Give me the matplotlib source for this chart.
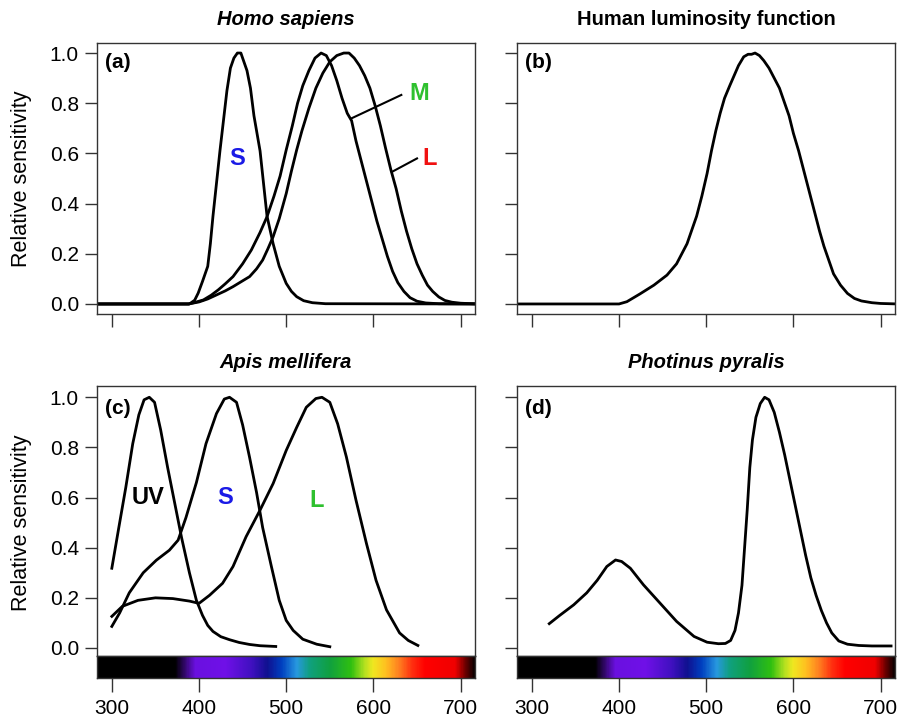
import numpy as np
import matplotlib
matplotlib.use("Agg")
import matplotlib.pyplot as plt
from matplotlib.colors import LinearSegmentedColormap

plt.rcParams['font.family'] = ['Liberation Sans', 'DejaVu Sans']

# (a) Homo sapiens cone sensitivities
hs_s_x = [280, 389, 395, 399, 404, 410, 413, 416, 420, 424, 428, 432, 436, 440, 444, 448,
          451, 455, 459, 463, 470, 474, 478, 485, 492, 500, 506, 512, 520, 530, 545, 720]
hs_s_y = [0, 0, 0.015, 0.043, 0.09, 0.15, 0.24, 0.35, 0.48, 0.61, 0.73, 0.85, 0.94, 0.98, 1.0, 1.0,
          0.97, 0.93, 0.86, 0.75, 0.61, 0.48, 0.35, 0.24, 0.15, 0.082, 0.05, 0.029, 0.013, 0.005,
          0.001, 0]
hs_m_x = [280, 388, 395, 405, 414, 422, 430, 439, 450, 460, 470, 478, 486, 493, 500, 507, 513, 519,
          526, 533, 540, 546, 552, 558, 564, 570, 575, 580, 586, 592, 598, 604, 610, 616, 622, 628,
          635, 642, 650, 660, 675, 720]
hs_m_y = [0, 0, 0.006, 0.016, 0.035, 0.056, 0.08, 0.109, 0.16, 0.215, 0.285, 0.348, 0.43, 0.51, 0.614,
          0.71, 0.8, 0.87, 0.93, 0.98, 1.0, 0.99, 0.95, 0.89, 0.82, 0.76, 0.73, 0.65, 0.57, 0.49, 0.41,
          0.33, 0.26, 0.19, 0.13, 0.085, 0.05, 0.025, 0.011, 0.004, 0.001, 0]
hs_l_x = [280, 388, 400, 410, 420, 430, 439, 448, 458, 466, 473, 479, 485, 492, 500, 506, 512, 518,
          526, 534, 542, 550, 558, 566, 572, 578, 584, 590, 596, 602, 608, 614, 620, 626, 632, 638,
          644, 650, 656, 662, 668, 675, 682, 690, 700, 720]
hs_l_y = [0, 0, 0.008, 0.02, 0.036, 0.052, 0.069, 0.088, 0.109, 0.14, 0.175, 0.22, 0.268, 0.34, 0.44,
          0.53, 0.614, 0.69, 0.78, 0.86, 0.92, 0.965, 0.99, 1.0, 1.0, 0.98, 0.95, 0.91, 0.86, 0.79,
          0.71, 0.62, 0.535, 0.46, 0.37, 0.29, 0.22, 0.16, 0.115, 0.075, 0.05, 0.028, 0.014, 0.007,
          0.003, 0]

# (b) human luminosity function
lum_x = [280, 400, 409, 424, 440, 455, 466, 478, 489, 495, 501, 506, 511, 516, 521, 527, 532, 537,
         543, 548, 552, 556, 561, 566, 572, 578, 584, 589, 595, 600, 606, 612, 618, 624, 630, 635,
         641, 646, 654, 662, 670, 678, 690, 700, 720]
lum_y = [0, 0, 0.009, 0.04, 0.075, 0.115, 0.16, 0.24, 0.35, 0.43, 0.52, 0.61, 0.69, 0.76, 0.82, 0.87,
         0.91, 0.95, 0.985, 0.995, 0.995, 1.0, 0.99, 0.97, 0.94, 0.9, 0.86, 0.81, 0.75, 0.68, 0.61,
         0.53, 0.45, 0.37, 0.29, 0.23, 0.17, 0.12, 0.075, 0.042, 0.022, 0.012, 0.005, 0.002, 0]

# (c) Apis mellifera
am_uv_x = [300, 308, 316, 324, 331, 337, 343, 349, 356, 364, 372, 380, 389, 397, 404, 410, 416, 425,
           435, 446, 458, 470, 488]
am_uv_y = [0.318, 0.48, 0.64, 0.815, 0.93, 0.99, 1.0, 0.98, 0.87, 0.72, 0.58, 0.44, 0.3, 0.19, 0.13,
           0.09, 0.066, 0.045, 0.033, 0.022, 0.014, 0.009, 0.006]
am_s_x = [300, 309, 320, 336, 351, 366, 376, 385, 397, 408, 420, 429, 435, 443, 450, 458, 466, 473,
          483, 492, 500, 508, 519, 535, 550]
am_s_y = [0.086, 0.14, 0.22, 0.3, 0.35, 0.39, 0.43, 0.52, 0.66, 0.815, 0.935, 0.993, 1.0, 0.98, 0.89,
          0.76, 0.62, 0.48, 0.325, 0.19, 0.11, 0.07, 0.035, 0.015, 0.005]
am_l_x = [300, 312, 330, 350, 370, 389, 400, 412, 427, 439, 454, 470, 485, 500, 512, 523, 534, 541,
          550, 559, 569, 580, 592, 603, 615, 630, 640, 651]
am_l_y = [0.126, 0.166, 0.19, 0.2, 0.197, 0.187, 0.178, 0.21, 0.258, 0.325, 0.444, 0.55, 0.656, 0.788,
          0.88, 0.96, 0.995, 1.0, 0.98, 0.894, 0.762, 0.59, 0.417, 0.27, 0.152, 0.06, 0.03, 0.01]

# (d) Photinus pyralis
pp_x = [320, 332, 348, 363, 375, 386, 396, 403, 413, 428, 447, 466, 486, 501, 514, 522, 528, 533,
        537, 541, 544, 547, 550, 553, 557, 562, 567, 572, 578, 584, 590, 596, 602, 608, 614, 620,
        626, 632, 638, 644, 652, 662, 675, 690, 712]
pp_y = [0.097, 0.13, 0.172, 0.22, 0.27, 0.325, 0.351, 0.345, 0.318, 0.252, 0.179, 0.106, 0.046, 0.023,
        0.017, 0.018, 0.03, 0.07, 0.14, 0.25, 0.4, 0.55, 0.72, 0.83, 0.92, 0.975, 1.0, 0.99, 0.94,
        0.86, 0.77, 0.67, 0.57, 0.47, 0.37, 0.28, 0.21, 0.15, 0.1, 0.06, 0.028, 0.015, 0.01, 0.008,
        0.008]

# spectrum bar stops
spec_nm = [283, 372, 395, 430, 460, 478, 495, 512, 527, 550, 575, 590, 600, 615, 630, 645, 660,
           695, 708, 716.5]
spec_col = ['#000000', '#000000', '#6a10e0', '#7010e8', '#4010c0', '#101090', '#0040c0', '#2898e0',
            '#10a080', '#10a040', '#30c010', '#b0e020', '#f0e820', '#ffc020', '#ff8020', '#ff3010',
            '#ff0000', '#f00000', '#600000', '#100000']

ticks_x = [300, 400, 500, 600, 700]
ticks_y = [0.0, 0.2, 0.4, 0.6, 0.8, 1.0]
XLIM = (283, 716.5)

W, H = 898, 721
fig = plt.figure(figsize=(W / 100, H / 100), dpi=100)


def px_axes(l, t, r, b):
    return fig.add_axes([l / W, 1 - b / H, (r - l) / W, (b - t) / H])


def style(ax, ylabels):
    for s in ax.spines.values():
        s.set_color('#333333')
        s.set_linewidth(1.0)
    ax.tick_params(direction='out', length=9, width=1, color='#333333', labelsize=15, pad=4)
    ax.set_xlim(*XLIM)
    ax.set_yticks(ticks_y)
    if ylabels:
        ax.set_yticklabels([f'{v:.1f}' for v in ticks_y])
    else:
        ax.set_yticklabels([])


def spectrum(ax):
    pos = [(n - XLIM[0]) / (XLIM[1] - XLIM[0]) for n in spec_nm]
    cmap = LinearSegmentedColormap.from_list('spec', list(zip(pos, spec_col)))
    ax.imshow(np.linspace(0, 1, 600)[np.newaxis, :], aspect='auto', cmap=cmap,
              extent=(XLIM[0], XLIM[1], 0, 1))
    for s in ax.spines.values():
        s.set_color('#333333')
        s.set_linewidth(1.0)
    ax.set_xlim(*XLIM)
    ax.set_ylim(0, 1)
    ax.set_yticks([])
    ax.set_xticks(ticks_x)
    ax.tick_params(direction='out', length=10, width=1, color='#333333', labelsize=15, pad=5)


title_kw = dict(fontsize=14.5, fontweight='bold', pad=13)
lw = 2.0

axA = px_axes(97, 43, 475, 314)
axB = px_axes(517, 43, 895, 314)
axC = px_axes(97, 386, 475, 656)
axD = px_axes(517, 386, 895, 656)
cbC = px_axes(97, 656, 475, 678)
cbD = px_axes(517, 656, 895, 678)

for ax, lab in [(axA, True), (axB, False), (axC, True), (axD, False)]:
    style(ax, lab)
for ax in (axA, axB):
    ax.set_ylim(-0.04, 1.04)
    ax.set_xticks(ticks_x)
    ax.set_xticklabels([])
for ax in (axC, axD):
    ax.set_ylim(-0.032, 1.045)
    ax.set_xticks([])
spectrum(cbC)
spectrum(cbD)

# (a)
axA.plot(hs_s_x, hs_s_y, color='black', lw=lw)
axA.plot(hs_m_x, hs_m_y, color='black', lw=lw)
axA.plot(hs_l_x, hs_l_y, color='black', lw=lw)
axA.plot([632, 575], [0.833, 0.74], color='black', lw=1.5)
axA.plot([650, 621], [0.58, 0.526], color='black', lw=1.5)
axA.text(444, 0.58, 'S', color='#1a1ae6', fontsize=17, fontweight='bold', ha='center', va='center')
axA.text(652, 0.84, 'M', color='#2ec02e', fontsize=17, fontweight='bold', ha='center', va='center')
axA.text(664, 0.58, 'L', color='#f01010', fontsize=17, fontweight='bold', ha='center', va='center')
axA.set_title('Homo sapiens', fontstyle='italic', **title_kw)

# (b)
axB.plot(lum_x, lum_y, color='black', lw=lw)
axB.set_title('Human luminosity function', **title_kw)

# (c)
axC.plot(am_uv_x, am_uv_y, color='black', lw=lw)
axC.plot(am_s_x, am_s_y, color='black', lw=lw)
axC.plot(am_l_x, am_l_y, color='black', lw=lw)
axC.text(341, 0.60, 'UV', color='black', fontsize=17, fontweight='bold', ha='center', va='center')
axC.text(430, 0.60, 'S', color='#1a1ae6', fontsize=17, fontweight='bold', ha='center', va='center')
axC.text(535, 0.59, 'L', color='#2ec02e', fontsize=17, fontweight='bold', ha='center', va='center')
axC.set_title('Apis mellifera', fontstyle='italic', **title_kw)

# (d)
axD.plot(pp_x, pp_y, color='black', lw=lw)
axD.set_title('Photinus pyralis', fontstyle='italic', **title_kw)

for ax, lab, yy in [(axA, '(a)', 0.963), (axB, '(b)', 0.963), (axC, '(c)', 0.956), (axD, '(d)', 0.956)]:
    ax.text(292, yy, lab, fontsize=15, fontweight='bold', ha='left', va='center')

fig.text(22 / W, 1 - 179 / H, 'Relative sensitivity', rotation=90, fontsize=15.5, ha='center', va='center')
fig.text(22 / W, 1 - 523 / H, 'Relative sensitivity', rotation=90, fontsize=15.5, ha='center', va='center')

fig.savefig('out.png', dpi=100)
